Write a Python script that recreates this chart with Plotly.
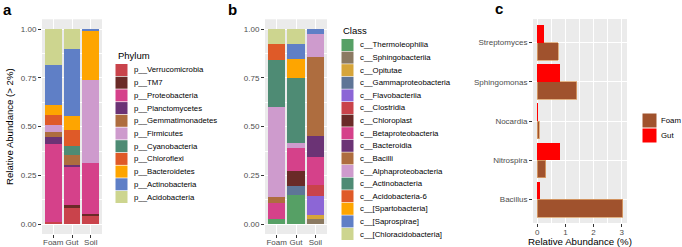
import plotly.graph_objects as go

W, H = 682, 247

# ---------------- data ----------------
samples = ["Foam", "Gut", "Soil"]

phyla = ["p__Verrucomicrobia", "p__TM7", "p__Proteobacteria", "p__Planctomycetes",
         "p__Gemmatimonadetes", "p__Firmicutes", "p__Cyanobacteria", "p__Chloroflexi",
         "p__Bacteroidetes", "p__Actinobacteria", "p__Acidobacteria"]
phylum_foam = [0.011, 0.000, 0.401, 0.034, 0.026, 0.035, 0.000, 0.055, 0.047, 0.205, 0.184]
phylum_gut = [0.083, 0.017, 0.191, 0.013, 0.051, 0.000, 0.047, 0.081, 0.072, 0.341, 0.104]
phylum_soil = [0.040, 0.012, 0.261, 0.000, 0.000, 0.426, 0.000, 0.000, 0.252, 0.009, 0.000]

classes = ["c__Thermoleophilia", "c__Sphingobacteriia", "c__Opitutae", "c__Gammaproteobacteria",
           "c__Flavobacteriia", "c__Clostridia", "c__Chloroplast", "c__Betaproteobacteria",
           "c__Bacteroidia", "c__Bacilli", "c__Alphaproteobacteria", "c__Actinobacteria",
           "c__Acidobacteria-6", "c__[Spartobacteria]", "c__[Saprospirae]", "c__[Chloracidobacteria]"]
class_foam = [0.027, 0.000, 0.000, 0.000, 0.000, 0.000, 0.000, 0.081, 0.000, 0.034, 0.461, 0.238, 0.080, 0.000, 0.000, 0.079]
class_gut = [0.149, 0.000, 0.000, 0.048, 0.000, 0.000, 0.078, 0.115, 0.000, 0.000, 0.028, 0.330, 0.000, 0.097, 0.080, 0.075]
class_soil = [0.000, 0.027, 0.022, 0.000, 0.098, 0.055, 0.000, 0.145, 0.106, 0.402, 0.118, 0.000, 0.000, 0.000, 0.027, 0.000]

genera = ["Bacillus", "Nitrospira", "Nocardia", "Sphingomonas", "Streptomyces"]
genus_foam = [3.04, 0.31, 0.07, 1.40, 0.74]
genus_gut = [0.08, 0.81, 0.01, 0.81, 0.24]
groups_c = ["Foam", "Gut"]

abund_ticks = [0, 0.25, 0.5, 0.75, 1.0]
abund_minor = [0.125, 0.375, 0.625, 0.875]
pct_ticks = [0, 1, 2, 3]
pct_minor = [0.5, 1.5, 2.5]

# ---------------- styles ----------------
phylum_colors = ["#C9434B", "#6A2A27", "#D5418A", "#6B3375", "#AE6D3F", "#CE9BCD",
                 "#4E8B74", "#DF5A28", "#FEA500", "#5F7FC6", "#CDD58F"]
class_colors = ["#56A065", "#8B7A62", "#D6A53A", "#5E7597", "#8C66D6", "#C9434B",
                "#6A2A27", "#D5418A", "#6B3375", "#AE6D3F", "#CE9BCD", "#4E8B74",
                "#DF5A28", "#FEA500", "#5F7FC6", "#CDD58F"]
foam_color = "#A0522D"
gut_color = "#FF0000"
FONT = "Liberation Sans, Arial, sans-serif"
TICKC = "#4D4D4D"
BG = "#EBEBEB"


def fx(p):
    return p / W


def fy(p):
    return 1 - p / H


fig = go.Figure()

# panel a
for name, col, a, b, c in zip(phyla, phylum_colors, phylum_foam, phylum_gut, phylum_soil):
    fig.add_trace(go.Bar(x=samples, y=[a, b, c], name=name, marker=dict(color=col, line=dict(width=0)),
                         xaxis="x", yaxis="y", showlegend=False))
# panel b
for name, col, a, b, c in zip(classes, class_colors, class_foam, class_gut, class_soil):
    fig.add_trace(go.Bar(x=samples, y=[a, b, c], name=name, marker=dict(color=col, line=dict(width=0)),
                         xaxis="x2", yaxis="y2", showlegend=False))
# panel c
fig.add_trace(go.Bar(y=genera, x=genus_foam, orientation="h", name="Foam", width=0.45, offset=-0.45,
                     marker=dict(color=foam_color, line=dict(color="#DDA26A", width=0.8)),
                     xaxis="x3", yaxis="y3", showlegend=False))
fig.add_trace(go.Bar(y=genera, x=genus_gut, orientation="h", name="Gut", width=0.45, offset=0,
                     marker=dict(color=gut_color, line=dict(width=0)),
                     xaxis="x3", yaxis="y4", showlegend=False))


# custom legends (keys drawn on hidden axes, labels as annotations)
def add_legend(names, colors, xa, ya, key_x, text_x, key_size, font_size):
    n = len(names)
    idx = list(range(n))
    fig.add_trace(go.Scatter(x=[key_x] * n, y=idx, mode="markers",
                             marker=dict(symbol="square", size=key_size, color=colors, line=dict(width=0)),
                             xaxis=xa, yaxis=ya, showlegend=False, hoverinfo="skip", cliponaxis=False))
    for i, nm in enumerate(names):
        fig.add_annotation(text=nm, xref=xa, yref=ya, x=text_x, y=i, xanchor="left", yanchor="middle",
                           showarrow=False, borderpad=0,
                           font=dict(size=font_size, color="#000000", family=FONT))


add_legend(phyla, phylum_colors, "x5", "y5", 6.5, 17.5, 12, 7.8)
add_legend(classes, class_colors, "x6", "y6", 6.5, 17.5, 12, 7.8)
add_legend(groups_c, [foam_color, gut_color], "x7", "y7", 7.5, 17.5, 14, 7.8)

tick_common = dict(ticks="outside", ticklen=3, tickwidth=1, tickcolor="#333333",
                   tickfont=dict(size=8, color=TICKC, family=FONT), zeroline=False,
                   showline=False, gridcolor="white", gridwidth=1.1, automargin=False)

ya_dom = [fy(234), fy(19.3)]
hidden = dict(visible=False, showgrid=False, zeroline=False, fixedrange=True)

fig.update_layout(
    width=W, height=H, margin=dict(l=0, r=0, t=0, b=0), autosize=False,
    paper_bgcolor="white", plot_bgcolor="rgba(0,0,0,0)",
    barmode="stack", bargap=0.1, font=dict(family=FONT),
    xaxis=dict(domain=[fx(42), fx(102)], anchor="y", type="category", categoryarray=samples,
               range=[-0.6, 2.6], showgrid=True, tickangle=0, ticklabelstandoff=-3, **tick_common),
    yaxis=dict(domain=ya_dom, anchor="x", range=[-0.05, 1.05], tickmode="array",
               tickvals=abund_ticks, tickformat=".2f", showgrid=True,
               minor=dict(tickvals=abund_minor, showgrid=True, gridcolor="white", gridwidth=0.5, ticks=""),
               title=dict(text="Relative Abundance (> 2%)", font=dict(size=9.6, color="#000000"), standoff=5),
               **tick_common),
    xaxis2=dict(domain=[fx(265), fx(327)], anchor="y2", type="category", categoryarray=samples,
                range=[-0.6, 2.6], showgrid=True, tickangle=0, ticklabelstandoff=-3, **tick_common),
    yaxis2=dict(domain=ya_dom, anchor="x2", range=[-0.05, 1.05], tickmode="array",
                tickvals=abund_ticks, tickformat=".2f", showgrid=True,
                minor=dict(tickvals=abund_minor, showgrid=True, gridcolor="white", gridwidth=0.5, ticks=""),
                **tick_common),
    xaxis3=dict(domain=[fx(533), fx(627)], anchor="y3", range=[-0.152, 3.19], tickmode="array",
                tickvals=pct_ticks, showgrid=True, tickangle=0, ticklabelstandoff=-2,
                minor=dict(tickvals=pct_minor, showgrid=True, gridcolor="white", gridwidth=0.5, ticks=""),
                **tick_common),
    yaxis3=dict(domain=[fy(223), fy(19)], anchor="x3", type="category", categoryarray=genera,
                range=[-0.6, 4.6], showgrid=True, **tick_common),
    yaxis4=dict(overlaying="y3", anchor="x3", type="category", categoryarray=genera,
                range=[-0.6, 4.6], visible=False, showgrid=False),
    xaxis5=dict(domain=[fx(115), fx(235)], anchor="y5", range=[0, 120], **hidden),
    yaxis5=dict(domain=[fy(70 + 10 * 12.7 + 6.35), fy(70 - 6.35)], anchor="x5",
                range=[10.5, -0.5], **hidden),
    xaxis6=dict(domain=[fx(341), fx(470)], anchor="y6", range=[0, 129], **hidden),
    yaxis6=dict(domain=[fy(45 + 15 * 12.6 + 6.3), fy(45 - 6.3)], anchor="x6",
                range=[15.5, -0.5], **hidden),
    xaxis7=dict(domain=[fx(642), fx(682)], anchor="y7", range=[0, 40], **hidden),
    yaxis7=dict(domain=[fy(143), fy(113)], anchor="x7", range=[1.5, -0.5], **hidden),
)

# panel backgrounds
for xr, yr in [("x", "y"), ("x2", "y2"), ("x3", "y3")]:
    fig.add_shape(type="rect", xref=f"{xr} domain", yref=f"{yr} domain", x0=0, x1=1, y0=0, y1=1,
                  fillcolor=BG, line=dict(width=0), layer="below")

# panel letters, legend titles, x title of panel c
for txt, px, py in [("<b>a</b>", 7.5, 9), ("<b>b</b>", 233, 9), ("<b>c</b>", 499, 8.5)]:
    fig.add_annotation(text=txt, xref="paper", yref="paper", x=fx(px), y=fy(py), showarrow=False,
                       xanchor="center", yanchor="middle",
                       font=dict(family=FONT, color="#000000", size=15))
fig.add_annotation(text="Phylum", xref="paper", yref="paper", x=fx(116), y=fy(55), xanchor="left",
                   yanchor="middle", showarrow=False, font=dict(family=FONT, size=9.5, color="#000000"))
fig.add_annotation(text="Class", xref="paper", yref="paper", x=fx(341), y=fy(31), xanchor="left",
                   yanchor="middle", showarrow=False, font=dict(family=FONT, size=9.5, color="#000000"))
fig.add_annotation(text="Relative Abundance (%)", xref="paper", yref="paper", x=fx(580), y=fy(241),
                   xanchor="center", yanchor="middle", showarrow=False,
                   font=dict(family=FONT, size=9.7, color="#000000"))

fig.write_html("out.html", config={"displayModeBar": False},
               post_script="document.body.style.margin='0';document.body.style.padding='0';")
